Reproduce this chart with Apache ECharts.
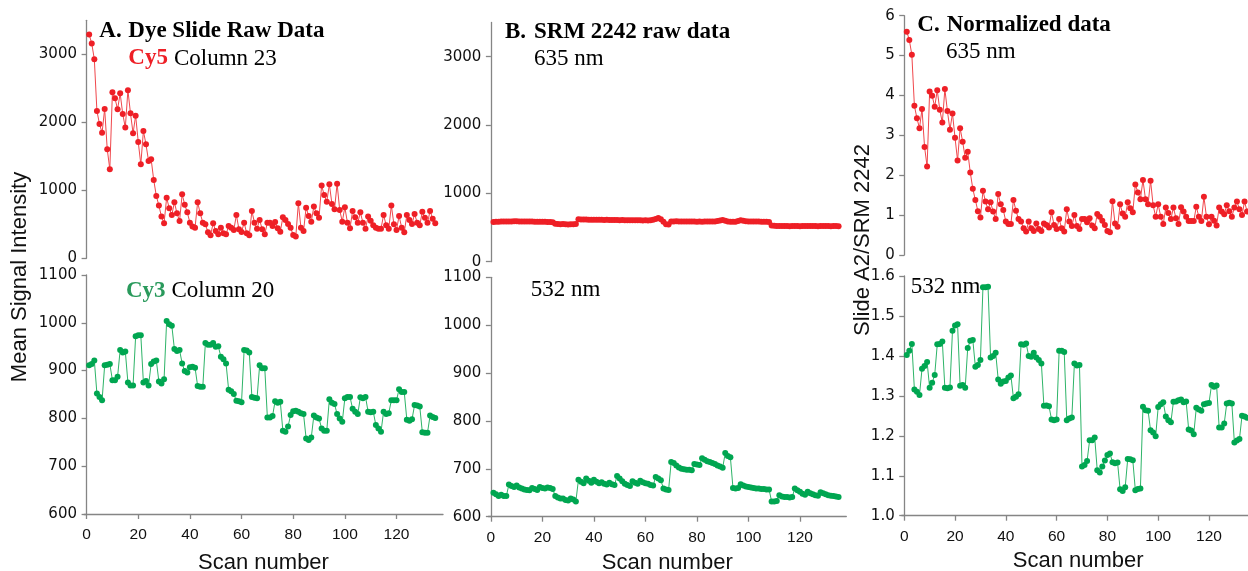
<!DOCTYPE html>
<html>
<head>
<meta charset="utf-8">
<script src="https://cdn.jsdelivr.net/npm/echarts@6/dist/echarts.min.js"></script>
<style>
html,body{margin:0;padding:0;background:#fff;}
#chart{width:1248px;height:571px;}
</style>
</head>
<body>
<div id="chart"></div>
<script>
// ---- data ----
const scanCount = 135;
const scans = Array.from({length: scanCount}, (_, i) => i + 1);

const dyeCy5 = [3290,3160,2926,2167,1975,1848,2196,1603,1309,2441,
2353,2191,2426,2122,1922,2471,2132,1838,2098,1711,
1382,1873,1676,1431,1456,1152,917,775,613,515,
892,735,637,824,662,549,941,789,676,524,
466,451,824,662,524,500,382,338,515,402,
353,451,368,353,475,451,417,637,426,387,
524,368,338,696,524,436,564,426,353,524,
524,475,534,441,392,603,564,505,451,343,
319,809,451,402,745,623,539,760,662,598,
1069,931,833,1088,799,721,1098,711,539,750,
524,441,696,603,524,676,524,436,613,554,
485,451,436,436,637,485,436,775,500,417,
623,451,382,637,564,505,652,524,485,686,
598,524,696,583,515];

const dyeCy3 = [911,914,921,852,845,838,911,912,914,880,
880,887,943,938,940,875,869,869,972,974,
974,875,878,869,914,919,921,877,873,882,
1004,997,994,945,941,943,915,899,896,907,
908,906,868,866,866,958,954,954,958,950,
951,929,924,915,860,857,851,837,836,834,
943,942,938,845,843,842,911,905,905,802,
802,805,836,833,835,774,772,783,807,815,
816,814,811,809,758,755,760,806,802,800,
779,774,774,840,833,830,809,800,793,842,
845,845,820,814,809,844,842,845,814,813,
814,786,779,772,814,809,811,838,838,838,
861,855,855,797,795,798,828,827,825,771,
770,770,806,803,801];

const srm635 = [580,583,586,589,590,590,588,589,591,592,
590,589,590,588,587,588,586,584,585,586,
584,582,580,578,556,552,549,550,548,546,
547,549,551,621,619,617,616,615,614,615,
613,612,612,611,612,610,611,609,610,608,
609,607,608,606,606,607,605,606,604,605,
604,606,612,625,638,620,585,548,546,588,
590,591,590,589,590,588,589,587,588,586,
587,586,588,590,588,587,589,595,603,610,
598,588,586,584,585,596,605,598,592,590,
589,588,587,588,586,585,584,582,528,525,
524,522,523,521,522,520,521,523,522,520,
521,522,524,523,521,522,520,521,523,522,
521,520,522,521,520];

const srm532 = [650,647,643,646,643,643,667,664,662,665,
661,659,657,656,655,660,658,656,662,660,
659,661,660,658,643,640,638,638,635,634,
638,636,632,677,673,670,680,675,671,677,
673,670,672,669,667,671,668,666,685,680,
674,669,666,664,674,671,669,675,672,670,
669,666,665,683,680,676,659,657,656,714,
712,707,703,700,699,698,698,697,710,709,
708,722,719,716,714,712,710,707,705,702,
733,727,724,660,659,660,668,665,663,662,
661,660,659,659,658,658,657,657,632,632,
633,645,642,641,641,640,641,659,655,652,
648,646,652,649,647,645,644,651,649,647,
645,644,643,642,641];

const norm635 = [5.60,5.39,5.02,3.74,3.43,3.18,3.66,2.71,2.22,4.10,
3.99,3.72,4.13,3.64,3.32,4.16,3.61,3.14,3.55,2.94,
2.37,3.18,2.84,2.44,2.59,2.07,1.66,1.38,1.10,0.94,
1.61,1.34,1.15,1.32,1.09,0.90,1.53,1.27,1.13,0.84,
0.78,0.78,1.38,1.11,0.90,0.84,0.67,0.59,0.84,0.67,
0.60,0.79,0.65,0.60,0.79,0.75,0.69,1.07,0.75,0.65,
0.90,0.67,0.59,1.15,0.84,0.73,1.00,0.73,0.65,0.90,
0.90,0.82,0.92,0.74,0.67,1.03,0.96,0.86,0.75,0.60,
0.57,1.35,0.79,0.71,1.27,1.04,0.96,1.32,1.17,1.07,
1.77,1.57,1.40,1.88,1.40,1.27,1.86,1.25,0.96,1.27,
0.96,0.78,1.19,1.05,0.90,1.19,0.92,0.78,1.20,1.09,
0.96,0.85,0.85,0.85,1.21,0.96,0.85,1.46,0.96,0.77,
0.96,0.86,0.74,1.19,1.09,1.02,1.25,1.10,0.96,1.19,
1.34,1.15,1.00,1.34,1.09];

const norm532 = [1.402,1.413,1.430,1.316,1.310,1.302,1.368,1.375,1.385,1.320,
1.333,1.352,1.429,1.430,1.436,1.320,1.319,1.321,1.463,1.476,
1.479,1.325,1.327,1.320,1.420,1.438,1.440,1.373,1.377,1.390,
1.572,1.572,1.573,1.396,1.400,1.408,1.341,1.330,1.336,1.337,
1.346,1.351,1.294,1.298,1.304,1.429,1.428,1.431,1.400,1.398,
1.408,1.396,1.390,1.381,1.275,1.276,1.274,1.241,1.239,1.241,
1.413,1.413,1.410,1.239,1.243,1.246,1.381,1.376,1.377,1.123,
1.127,1.137,1.189,1.189,1.196,1.114,1.108,1.123,1.138,1.152,
1.156,1.134,1.131,1.133,1.066,1.062,1.071,1.142,1.141,1.139,
1.064,1.067,1.068,1.273,1.264,1.263,1.214,1.208,1.199,1.272,
1.279,1.284,1.248,1.239,1.234,1.285,1.286,1.289,1.291,1.284,
1.286,1.216,1.213,1.204,1.270,1.266,1.263,1.279,1.281,1.282,
1.327,1.323,1.326,1.221,1.221,1.231,1.281,1.283,1.281,1.183,
1.188,1.192,1.250,1.248,1.245];

const xTicks = [0, 20, 40, 60, 80, 100, 120];
const yTicksRawTop = [0, 1000, 2000, 3000];
const yTicksRawBottom = [600, 700, 800, 900, 1000, 1100];
const yTicksNormTop = [0, 1, 2, 3, 4, 5, 6];
const yTicksNormBottom = [1.0, 1.1, 1.2, 1.3, 1.4, 1.5, 1.6];

// ---- styling ----
const RED = '#ee1f26';
const RED_LINE = '#f0474c';
const GREEN = '#00a651';
const GREEN_LINE = '#2eb468';
const AXIS_GRAY = '#858585';
const SANS = '"Liberation Sans", Arial, sans-serif';
const WIDE_SANS = '"DejaVu Sans", "Liberation Sans", sans-serif';
const SERIF = '"Liberation Serif", "Times New Roman", serif';

const panels = [
  {grid:{left:84,   top:20.3, width:359, height:238},   y:[0,3500],  yt:yTicksRawTop,     data:dyeCy5,  c:RED,   lc:RED_LINE,   bottom:false, gap:38},
  {grid:{left:84,   top:275,  width:359, height:239},   y:[600,1100],yt:yTicksRawBottom,  data:dyeCy3,  c:GREEN, lc:GREEN_LINE, bottom:true,  gap:38},
  {grid:{left:488.3,top:22.5, width:358, height:239.2}, y:[0,3500],  yt:yTicksRawTop,     data:srm635,  c:RED,   lc:RED_LINE,   bottom:false, gap:35},
  {grid:{left:488.3,top:277.3,width:358, height:239.4}, y:[600,1100],yt:yTicksRawBottom,  data:srm532,  c:GREEN, lc:GREEN_LINE, bottom:true,  gap:35},
  {grid:{left:901.7,top:15.7, width:353, height:239.3}, y:[0,6],     yt:yTicksNormTop,    data:norm635, c:RED,   lc:RED_LINE,   bottom:false, gap:34},
  {grid:{left:901.7,top:276,  width:353, height:239.7}, y:[1.0,1.6], yt:yTicksNormBottom, data:norm532, c:GREEN, lc:GREEN_LINE, bottom:true,  gap:34, dec:1}
];

const grids = panels.map(p => Object.assign({containLabel: false, outerBoundsMode: 'none'}, p.grid));
const xAxes = panels.map((p, i) => ({
  type: 'value', gridIndex: i, min: -1, max: 138,
  show: p.bottom,
  axisLine: {show: true, onZero: false, lineStyle: {color: AXIS_GRAY, width: 1.3}},
  axisTick: {show: true, length: 5, customValues: xTicks, lineStyle: {color: AXIS_GRAY, width: 1.3}},
  axisLabel: {show: true, customValues: xTicks, margin: 13, fontFamily: SANS, fontSize: 15.5, color: '#111'},
  splitLine: {show: false},
  name: p.bottom ? 'Scan number' : '',
  nameLocation: 'middle', nameGap: p.gap,
  nameTextStyle: {fontFamily: SANS, fontSize: 22, color: '#111'}
}));
const yAxes = panels.map((p, i) => ({
  type: 'value', gridIndex: i, min: p.y[0], max: p.y[1],
  axisLine: {show: true, lineStyle: {color: AXIS_GRAY, width: 1.3}},
  axisTick: {show: true, length: 5, customValues: p.yt, lineStyle: {color: AXIS_GRAY, width: 1.3}},
  axisLabel: {show: true, customValues: p.yt, margin: 7, fontFamily: WIDE_SANS, fontSize: 15, color: '#111',
    formatter: v => p.dec ? Number(v).toFixed(p.dec) : String(v)},
  splitLine: {show: false}
}));
const series = panels.map((p, i) => ({
  type: 'line', xAxisIndex: i, yAxisIndex: i,
  data: scans.map((s, k) => [s, p.data[k]]),
  symbol: 'circle', symbolSize: 6, showSymbol: true,
  itemStyle: {color: p.c},
  lineStyle: {color: p.lc, width: 1},
  silent: true, animation: false, z: 3
}));

function txt(x, y, text, font, fill, extra) {
  return Object.assign({
    type: 'text', x: x, y: y, silent: true, z: 10,
    style: {text: text, font: font, fill: fill, align: 'left', verticalAlign: 'middle'}
  }, extra || {});
}
const BOLD23 = 'bold 23px ' + SERIF;
const REG23 = '23px ' + SERIF;

const graphics = [
  txt(99.3, 31, 'A.', BOLD23, '#000'),
  txt(128.3, 31, 'Dye Slide Raw Data', BOLD23, '#000'),
  txt(128.3, 58.5, 'Cy5', BOLD23, RED),
  txt(174, 58.5, 'Column 23', REG23, '#000'),
  txt(126, 291, 'Cy3', BOLD23, '#2a9a5c'),
  txt(171.5, 291, 'Column 20', REG23, '#000'),
  txt(505, 32, 'B.', BOLD23, '#000'),
  txt(534, 32, 'SRM 2242 raw data', BOLD23, '#000'),
  txt(534, 58.5, '635 nm', REG23, '#000'),
  txt(530.7, 290, '532 nm', REG23, '#000'),
  txt(917.3, 25, 'C.', BOLD23, '#000'),
  txt(946.7, 25, 'Normalized data', BOLD23, '#000'),
  txt(946, 52, '635 nm', REG23, '#000'),
  txt(910.7, 287, '532 nm', REG23, '#000'),
  {type: 'text', x: 20, y: 277, rotation: Math.PI / 2, silent: true, z: 10,
   style: {text: 'Mean Signal Intensity', font: '22px ' + SANS, fill: '#111', align: 'center', verticalAlign: 'middle'}},
  {type: 'text', x: 863, y: 240, rotation: Math.PI / 2, silent: true, z: 10,
   style: {text: 'Slide A2/SRM 2242', font: '22px ' + SANS, fill: '#111', align: 'center', verticalAlign: 'middle'}}
];

const chart = echarts.init(document.getElementById('chart'), null, {renderer: 'canvas'});
chart.setOption({
  backgroundColor: '#ffffff',
  animation: false,
  grid: grids,
  xAxis: xAxes,
  yAxis: yAxes,
  series: series,
  graphic: graphics
});
</script>
</body>
</html>
